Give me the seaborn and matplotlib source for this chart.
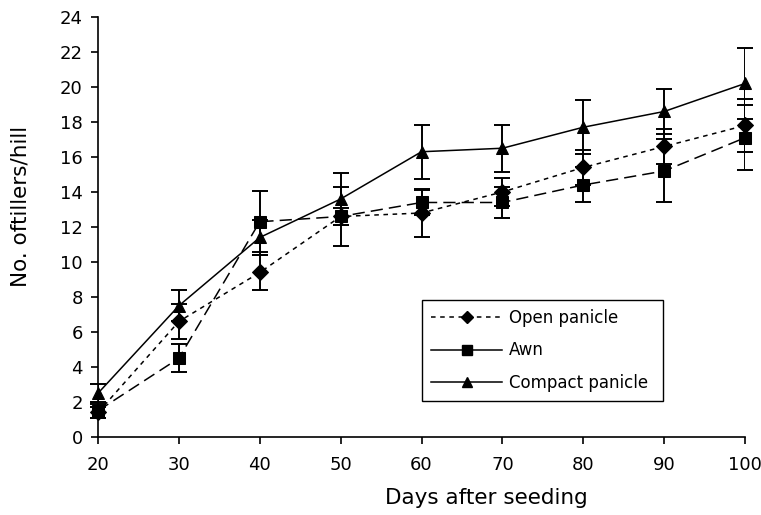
import pandas as pd
import seaborn as sns
import matplotlib.pyplot as plt
from matplotlib.lines import Line2D

# values
days = [20, 30, 40, 50, 60, 70, 80, 90, 100]
open_panicle = [1.4, 6.6, 9.4, 12.6, 12.8, 14.0, 15.4, 16.6, 17.8]
open_err = [0.3, 1.0, 1.0, 1.7, 1.35, 0.8, 1.0, 1.0, 1.5]
awn = [1.5, 4.5, 12.3, 12.6, 13.4, 13.4, 14.4, 15.2, 17.1]
awn_err = [0.4, 0.8, 1.75, 0.5, 0.7, 0.9, 1.0, 1.8, 1.85]
compact = [2.5, 7.5, 11.4, 13.6, 16.3, 16.5, 17.7, 18.6, 20.2]
compact_err = [0.5, 0.9, 1.0, 1.5, 1.55, 1.35, 1.55, 1.3, 2.05]

names = ['Open panicle', 'Awn', 'Compact panicle']
df = pd.DataFrame({
    'day': days * 3,
    'tillers': open_panicle + awn + compact,
    'err': open_err + awn_err + compact_err,
    'type': [n for n in names for _ in days],
})

plt.rcParams['font.family'] = ['DejaVu Sans']
fig = plt.figure(figsize=(7.61, 5.15), dpi=100)
ax = fig.add_axes([0.1288, 0.1515, 0.8502, 0.8155])

for n in names:
    d = df[df.type == n]
    ax.errorbar(d.day, d.tillers, yerr=d.err, fmt='none', ecolor='black',
                elinewidth=1.4, capsize=5.5, capthick=1.4, zorder=2)

sns.lineplot(data=df, x='day', y='tillers', style='type', ax=ax,
             markers={'Open panicle': 'D', 'Awn': 's', 'Compact panicle': '^'},
             dashes={'Open panicle': (3, 3), 'Awn': (8, 4), 'Compact panicle': ''},
             color='black', markersize=8, markeredgecolor='black',
             linewidth=1.1, legend=False, zorder=3)

ax.set_xlim(20, 100)
ax.set_ylim(0, 24)
ax.set_xticks(range(20, 101, 10))
ax.set_yticks(range(0, 25, 2))
ax.spines[['top', 'right']].set_visible(False)
ax.spines[['left', 'bottom']].set_linewidth(1.2)
ax.tick_params(direction='out', length=5, width=1.2, labelsize=13, colors='black')
ax.tick_params(axis='x', pad=9)
ax.tick_params(axis='y', pad=6)
ax.set_xlabel('Days after seeding', fontsize=15.5)
ax.set_ylabel('No. oftillers/hill', fontsize=15.5)
ax.xaxis.set_label_coords(0.6, -0.122)
ax.yaxis.set_label_coords(-0.104, 0.55)
for ln in ax.lines:
    ln.set_clip_on(False)

handles = [
    Line2D([], [], color='black', lw=1.1, ls=(0, (3, 3)), marker='D', markersize=6.5),
    Line2D([], [], color='black', lw=1.1, marker='s', markersize=7.5),
    Line2D([], [], color='black', lw=1.1, marker='^', markersize=7.5),
]
leg = ax.legend(handles, names, loc='upper left', bbox_to_anchor=(0.5, 0.326, 0.374, 0.0),
                mode='expand', borderaxespad=0, fontsize=12, frameon=True, fancybox=False,
                edgecolor='black', framealpha=1, handlelength=4.3, handletextpad=0.4,
                borderpad=0.55, labelspacing=0.85)
leg.get_frame().set_linewidth(1.0)

fig.savefig('out.png', dpi=100)
